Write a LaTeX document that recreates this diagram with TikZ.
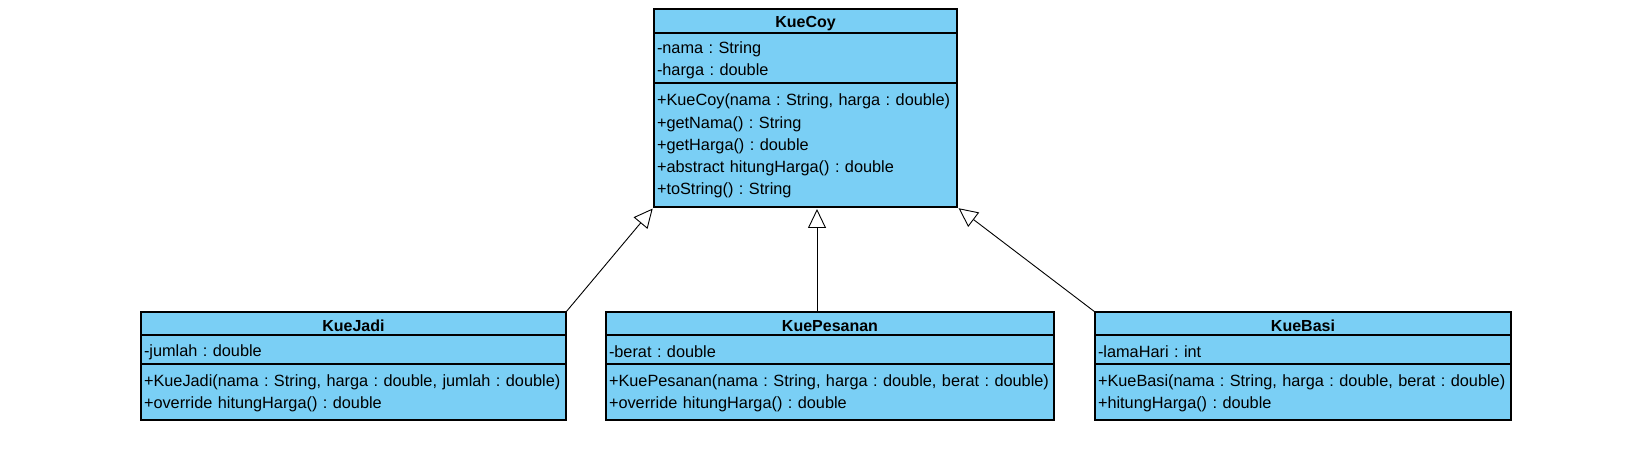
\documentclass[tikz,border=0pt]{standalone}
\usepackage{fontspec}
\setmainfont{Liberation Sans}
\usepackage{xcolor}
\usepackage{tikz}
\usetikzlibrary{positioning,shapes,arrows.meta}
\definecolor{classblue}{RGB}{122,207,245}
\frenchspacing

\begin{document}
\begin{tikzpicture}[x=1pt, y=-1pt,
			every node/.style = {draw, fill=classblue, line width=1.1pt,
				inner xsep=3pt, inner ysep=0pt, outer sep=0pt,
				font=\fontsize{16.3}{22.3}\selectfont},
			classname/.style = {align=center, minimum height=#1,
				execute at begin node={\rule{0pt}{17pt}},
				font=\fontsize{16}{22.3}\selectfont\bfseries},
			classattr/.style = {align=left, minimum height=#1,
				execute at begin node={\rule{0pt}{16.5pt}}},
			classops/.style = {align=left, minimum height=#1,
				execute at begin node={\rule{0pt}{14pt}}},
			inherit/.style = {line width=0.9pt, shorten >=2pt,
				-{Triangle[open, length=19pt, width=18pt]}}]
			\useasboundingbox (0,0) rectangle (1650,462);
			\node[classname=24pt, text width=297pt, anchor=north west] (kuecoy) at (654,9) {KueCoy};
			\node[classattr=50pt, text width=297pt, below=0pt of kuecoy] (kuecoyattr)
			{-nama : String\\-harga : double};
			\node[classops=124pt, text width=297pt, below=0pt of kuecoyattr] (kuecoyops)
			{+KueCoy(nama : String, harga : double)\\+getNama() : String\\+getHarga() : double\\
				+abstract hitungHarga() : double\\+toString() : String};
			
			\node[classname=23pt, text width=419pt, anchor=north west] (kuejadi) at (141,312) {KueJadi};
			\node[classattr=29pt, text width=419pt, below=0pt of kuejadi] (kuejadiattr)
			{-jumlah : double};
			\node[classops=56pt, text width=419pt, below=0pt of kuejadiattr] (kuejadiops)
			{+KueJadi(nama : String, harga : double, jumlah : double)\\+override hitungHarga() : double};
			
			\node[classname=23pt, text width=442pt, anchor=north west] (kuepesanan) at (606,312) {KuePesanan};
			\node[classattr=29pt, text width=442pt, below=0pt of kuepesanan] (kuepesananattr)
			{-berat : double};
			\node[classops=56pt, text width=442pt, below=0pt of kuepesananattr] (kuepesananops)
			{+KuePesanan(nama : String, harga : double, berat : double)\\+override hitungHarga() : double};
			
			\node[classname=23pt, text width=410pt, anchor=north west] (kuebasi) at (1095,312) {KueBasi};
			\node[classattr=29pt, text width=410pt, below=0pt of kuebasi] (kuebasiattr)
			{-lamaHari : int};
			\node[classops=56pt, text width=410pt, below=0pt of kuebasiattr] (kuebasiops)
			{+KueBasi(nama : String, harga : double, berat : double)\\+hitungHarga() : double};
			
			\draw[inherit] (kuejadi.north east) -- (kuecoyops.south west);
			\draw[inherit] ([xshift=-13pt]kuepesanan.north) -- ([xshift=-13pt]kuepesanan.north |- kuecoyops.south);
			\draw[inherit] (kuebasi.north west) -- (kuecoyops.south east);
\end{tikzpicture}
\end{document}
